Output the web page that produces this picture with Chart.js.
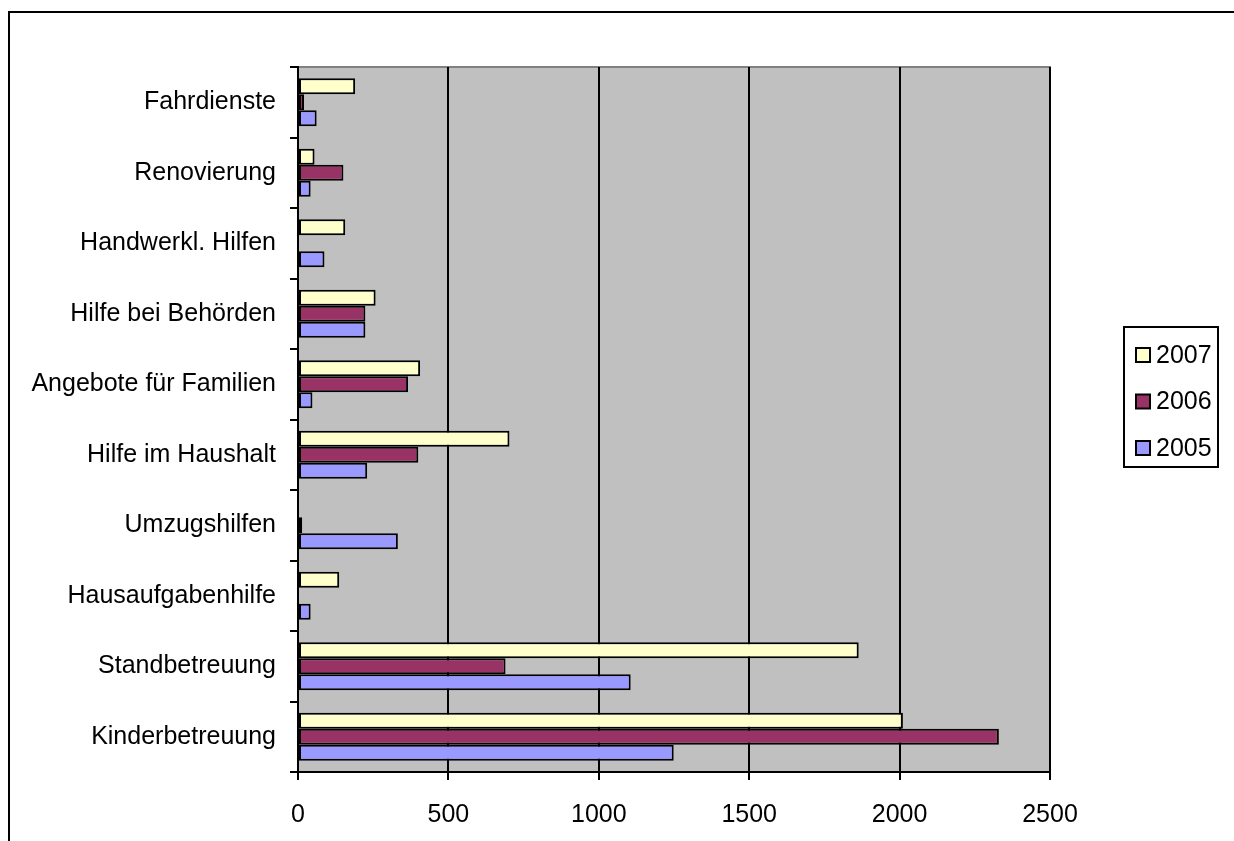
<!DOCTYPE html>
<html>
<head>
<meta charset="utf-8">
<script src="https://cdn.jsdelivr.net/npm/chart.js@4/dist/chart.umd.min.js"></script>
<style>
  html, body { margin: 0; padding: 0; background: #fff; }
  #wrap { width: 1234px; height: 841px; position: relative; }
</style>
</head>
<body>
<div id="wrap"><canvas id="c" width="1234" height="841"></canvas></div>
<script>
const categories = ["Fahrdienste", "Renovierung", "Handwerkl. Hilfen", "Hilfe bei Behörden", "Angebote für Familien", "Hilfe im Haushalt", "Umzugshilfen", "Hausaufgabenhilfe", "Standbetreuung", "Kinderbetreuung"];
const seriesNames = ["2007", "2006", "2005"];
const values2007 = [190, 55, 157, 258, 406, 703, null, 137, 1864, 2011];
const values2006 = [20, 151, null, 224, 366, 400, 14, null, 690, 2330];
const values2005 = [62, 42, 88, 224, 48, 230, 332, 42, 1106, 1249];
const xTicks = [0, 500, 1000, 1500, 2000, 2500];

const colors = ["#FFFFCC", "#993366", "#9999FF"];
const FONT = "'Liberation Sans', Arial, sans-serif";
const FSIZE = 25;

const frame = {
  id: 'frame',
  beforeDraw(chart) {
    const ctx = chart.ctx, a = chart.chartArea;
    ctx.save();
    ctx.fillStyle = '#fff';
    ctx.fillRect(0, 0, chart.width, chart.height);
    ctx.strokeStyle = '#000';
    ctx.lineWidth = 2;
    ctx.strokeRect(9, 12, 1300, 1000);
    ctx.fillStyle = '#C0C0C0';
    ctx.fillRect(a.left, a.top, a.right - a.left, a.bottom - a.top);
    ctx.strokeStyle = '#808080';
    ctx.lineWidth = 2;
    ctx.beginPath();
    ctx.moveTo(a.left, a.top);
    ctx.lineTo(a.right, a.top);
    ctx.lineTo(a.right, a.bottom);
    ctx.stroke();
    ctx.restore();
  },
  afterDraw(chart) {
    const ctx = chart.ctx;
    ctx.save();
    const lx = 1124, ly = 327, lw = 94, lh = 140;
    ctx.strokeStyle = '#000';
    ctx.lineWidth = 2;
    ctx.strokeRect(lx, ly, lw, lh);
    ctx.font = FSIZE + "px " + FONT;
    ctx.textBaseline = 'middle';
    ctx.textAlign = 'left';
    chart.data.datasets.forEach((ds, i) => {
      const cy = 355 + i * 46.5;
      ctx.fillStyle = ds.backgroundColor;
      ctx.fillRect(1136, cy - 7, 14, 14);
      ctx.lineWidth = 2;
      ctx.strokeStyle = '#000';
      ctx.strokeRect(1136, cy - 7, 14, 14);
      ctx.fillStyle = '#000';
      ctx.fillText(ds.label, 1156, cy + 1);
    });
    ctx.restore();
  }
};

new Chart(document.getElementById('c'), {
  type: 'bar',
  data: {
    labels: categories,
    datasets: [
      { label: seriesNames[0], data: values2007, backgroundColor: colors[0] },
      { label: seriesNames[1], data: values2006, backgroundColor: colors[1] },
      { label: seriesNames[2], data: values2005, backgroundColor: colors[2] }
    ]
  },
  options: {
    indexAxis: 'y',
    responsive: false,
    animation: false,
    devicePixelRatio: 1,
    layout: { padding: { top: 67, right: 184, left: 0, bottom: 0 } },
    datasets: {
      bar: {
        borderColor: '#000',
        borderWidth: 2,
        borderSkipped: false,
        barPercentage: 1.0,
        categoryPercentage: 0.68
      }
    },
    plugins: {
      legend: { display: false },
      tooltip: { enabled: false }
    },
    scales: {
      x: {
        type: 'linear',
        min: xTicks[0],
        max: xTicks[xTicks.length - 1],
        afterBuildTicks(scale) { scale.ticks = xTicks.map(v => ({ value: v })); },
        afterFit(scale) { scale.height = 69; },
        grid: {
          display: true,
          drawOnChartArea: true,
          drawTicks: true,
          tickLength: 8,
          color: '#000',
          lineWidth: 2
        },
        border: { display: true, color: '#000', width: 2 },
        ticks: {
          color: '#000',
          font: { family: FONT, size: FSIZE },
          padding: 20,
          maxRotation: 0,
          callback: (v) => String(v)
        }
      },
      y: {
        afterFit(scale) { scale.width = 298; },
        grid: {
          display: true,
          offset: true,
          drawOnChartArea: false,
          drawTicks: true,
          tickLength: 8,
          color: '#000',
          lineWidth: 2
        },
        border: { display: true, color: '#000', width: 2 },
        ticks: {
          color: '#000',
          font: { family: FONT, size: FSIZE },
          padding: 14
        }
      }
    }
  },
  plugins: [frame]
});
</script>
</body>
</html>
